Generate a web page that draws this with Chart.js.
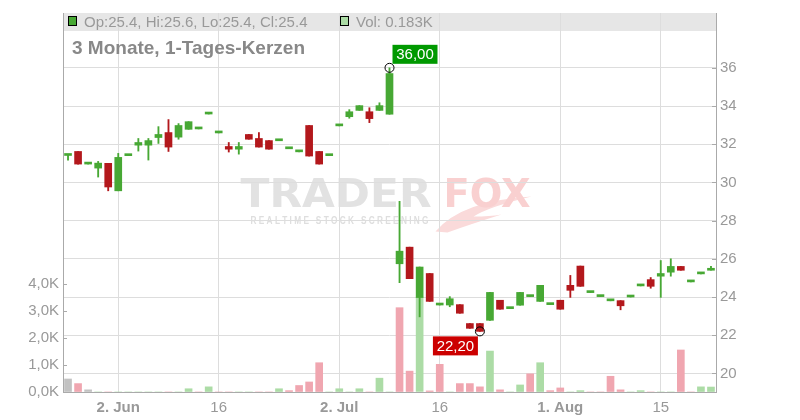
<!DOCTYPE html>
<html><head><meta charset="utf-8">
<script src="https://cdn.jsdelivr.net/npm/chart.js@4.4.1/dist/chart.umd.min.js"></script>
<style>html,body{margin:0;padding:0;background:#fff;}#wrap{width:800px;height:420px;}</style>
</head><body><div id="wrap"><canvas id="c" width="800" height="420"></canvas></div>
<script>
const days = [
'26.05.','27.05.','28.05.','29.05.','30.05.',
'02.06.','03.06.','04.06.','05.06.','06.06.',
'09.06.','10.06.','11.06.','12.06.','13.06.',
'16.06.','17.06.','18.06.','19.06.','20.06.',
'23.06.','24.06.','25.06.','26.06.','27.06.',
'30.06.','01.07.','02.07.','03.07.','04.07.',
'07.07.','08.07.','09.07.','10.07.','11.07.',
'14.07.','15.07.','16.07.','17.07.','18.07.',
'21.07.','22.07.','23.07.','24.07.','25.07.',
'28.07.','29.07.','30.07.','31.07.','01.08.',
'04.08.','05.08.','06.08.','07.08.','08.08.',
'11.08.','12.08.','13.08.','14.08.','15.08.',
'18.08.','19.08.','20.08.','21.08.','22.08.'];
const xTickDays   = ['02.06.','16.06.','02.07.','16.07.','01.08.','15.08.'];
const xTickLabels = ['2. Jun','16','2. Jul','16','1. Aug','15'];
const xTickBold   = [true,false,true,false,true,false];

const open = [31.41,31.62,30.96,30.75,31.00,29.56,31.40,31.95,31.95,32.35,
32.61,32.37,32.78,32.80,33.58,32.59,31.88,31.74,32.51,32.30,
32.19,32.18,31.76,31.60,32.98,31.62,31.40,32.96,33.44,33.77,
33.70,33.77,33.57,25.74,26.61,23.97,25.23,23.58,23.58,23.60,
22.61,22.61,22.78,23.83,23.39,23.57,24.02,23.77,23.60,23.83,
24.61,25.62,24.23,24.02,23.80,23.81,24.00,24.58,24.91,25.09,
25.30,25.60,24.79,25.21,25.40];
const high = [31.43,31.62,30.96,31.10,31.00,31.52,31.40,32.30,32.30,32.92,
33.29,33.08,33.18,32.80,33.58,32.59,32.09,32.09,32.51,32.61,
32.19,32.18,31.76,31.60,32.98,31.62,31.40,32.96,33.81,34.02,
33.91,34.17,36.00,29.01,26.61,25.57,25.23,23.58,24.02,23.60,
22.61,22.61,24.24,23.83,23.39,24.24,24.02,24.61,23.60,23.83,
25.13,25.62,24.23,24.02,23.80,23.81,24.00,24.58,25.02,25.91,
26.00,25.60,24.79,25.21,25.60];
const low = [31.17,30.96,30.96,30.28,29.56,29.56,31.40,31.64,31.17,32.04,
31.62,32.26,32.78,32.80,33.58,32.59,31.59,31.48,32.26,31.85,
31.74,32.18,31.76,31.60,31.38,30.96,31.40,32.96,33.36,33.77,
33.13,33.77,33.57,24.75,24.96,22.96,23.77,23.58,23.49,23.15,
22.36,22.20,22.78,23.36,23.39,23.57,24.02,23.77,23.60,23.36,
23.98,24.56,24.23,24.02,23.80,23.33,24.00,24.58,24.46,23.98,
25.09,25.40,24.79,25.21,25.40];
const close = [31.41,30.96,30.96,31.01,29.76,31.31,31.40,32.09,32.19,32.51,
31.85,32.98,33.18,32.80,33.58,32.59,31.74,31.88,32.26,31.85,
31.74,32.18,31.76,31.60,31.38,30.96,31.40,32.96,33.70,34.02,
33.34,34.02,35.70,26.40,24.96,25.57,23.77,23.58,23.91,23.15,
22.36,22.20,24.24,23.36,23.39,24.24,24.02,24.61,23.60,23.36,
24.35,24.56,24.23,24.02,23.80,23.54,24.00,24.58,24.56,25.23,
25.60,25.40,24.79,25.21,25.40];
const volume = [480,310,80,0,0,0,0,0,0,0,
0,0,120,0,190,0,0,0,0,0,
0,120,50,240,370,1080,0,120,0,120,
0,510,0,3110,770,3500,40,1020,0,310,
310,190,1510,80,0,260,670,1080,50,150,
0,50,0,0,580,80,0,50,0,0,
0,1550,0,190,183];
const priceTicks  = [20,22,24,26,28,30,32,34,36];
const volumeTicks = [0,1000,2000,3000,4000];
const chartTitle = '3 Monate, 1-Tages-Kerzen';

const FONT = "'Liberation Sans', Arial, sans-serif";
const GREEN = '#47a834', RED = '#b3181c';
const VOL_G = '#acdca6', VOL_R = '#f0a6b0', VOL_N = '#c2c2c2';
const candleColors = close.map((c,i) => c >= open[i] ? GREEN : RED);
const volColors = close.map((c,i) => (i === 0 || c === close[i-1]) ? VOL_N : (c > close[i-1] ? VOL_G : VOL_R));
const xTickIdx = xTickDays.map(d => days.indexOf(d));

const decor = {
  id: 'decor',
  beforeDraw(chart) {
    const ctx = chart.ctx, a = chart.chartArea;
    ctx.save();
    ctx.fillStyle = '#e6e6e6';
    ctx.fillRect(a.left, a.top, a.right - a.left, 18);
    const cx = (a.left + a.right) / 2, cy = (a.top + a.bottom) / 2;
    ctx.textBaseline = 'alphabetic';
    const drawFit = (txt, x, y, w, col) => {
      const m = ctx.measureText(txt).width;
      ctx.save(); ctx.translate(x, y); ctx.scale(w / m, 1);
      ctx.fillStyle = col; ctx.fillText(txt, 0, 0); ctx.restore();
    };
    ctx.font = "bold 39px 'DejaVu Sans', " + FONT;
    drawFit('TRADER', cx - 149, cy + 4, 191, '#e2e2e2');
    // fox tail swoosh
    ctx.beginPath();
    ctx.moveTo(cx + 46, cy + 29);
    ctx.quadraticCurveTo(cx + 72, cy - 2, cx + 142, cy - 6);
    ctx.quadraticCurveTo(cx + 100, cy + 4, cx + 84, cy + 14);
    ctx.quadraticCurveTo(cx + 100, cy + 14, cx + 112, cy + 12);
    ctx.quadraticCurveTo(cx + 80, cy + 22, cx + 58, cy + 30);
    ctx.closePath();
    ctx.fillStyle = '#fadada'; ctx.fill();
    drawFit('FOX', cx + 54, cy + 4, 87, '#f9d0d0');
    ctx.font = "bold 10px " + FONT;
    drawFit('R E A L T I M E   S T O C K   S C R E E N I N G', cx - 139, cy + 21, 178, '#dedede');
    ctx.restore();
  },
  afterDraw(chart) {
    const ctx = chart.ctx, a = chart.chartArea;
    const xs = chart.scales.x, ys = chart.scales.y, vs = chart.scales.yVol;
    ctx.save();
    ctx.strokeStyle = '#aaaaaa'; ctx.lineWidth = 1;
    priceTicks.forEach(v => { const y = Math.round(ys.getPixelForValue(v)) + 0.5;
      ctx.beginPath(); ctx.moveTo(a.right - 4, y); ctx.lineTo(a.right, y); ctx.stroke(); });
    volumeTicks.forEach(v => { const y = Math.round(vs.getPixelForValue(v)) + 0.5;
      ctx.beginPath(); ctx.moveTo(a.left, y); ctx.lineTo(a.left + 4, y); ctx.stroke(); });
    const n = close.length - 1;
    ctx.textBaseline = 'alphabetic';
    ctx.font = '15px ' + FONT;
    ctx.fillStyle = GREEN; ctx.fillRect(68.5, 16.5, 8, 9);
    ctx.strokeStyle = '#000'; ctx.strokeRect(68.5, 16.5, 8, 9);
    ctx.fillStyle = '#999999';
    ctx.fillText('Op:' + open[n].toFixed(1) + ', Hi:' + high[n].toFixed(1) + ', Lo:' + low[n].toFixed(1) + ', Cl:' + close[n].toFixed(1), 84, 27);
    ctx.fillStyle = VOL_G; ctx.fillRect(340.5, 16.5, 8, 9);
    ctx.strokeStyle = '#000'; ctx.strokeRect(340.5, 16.5, 8, 9);
    ctx.fillStyle = '#999999';
    ctx.fillText('Vol: ' + (volume[n] / 1000).toFixed(3) + 'K', 356, 27);
    ctx.font = 'bold 19px ' + FONT; ctx.fillStyle = '#888888';
    ctx.fillText(chartTitle, 72, 54);
    let iMax = 0, iMin = 0;
    high.forEach((h,i) => { if (h > high[iMax]) iMax = i; });
    low.forEach((l,i) => { if (l < low[iMin]) iMin = i; });
    const fmt = v => v.toFixed(2).replace('.', ',');
    ctx.font = '15px ' + FONT;
    const px = xs.getPixelForValue(iMax), py = ys.getPixelForValue(high[iMax]);
    ctx.fillStyle = '#009900'; ctx.fillRect(px + 3, py - 23, 45, 19);
    ctx.fillStyle = '#fff'; ctx.textAlign = 'center'; ctx.textBaseline = 'middle';
    ctx.fillText(fmt(high[iMax]), px + 25.5, py - 13);
    const qx = xs.getPixelForValue(iMin), qy = ys.getPixelForValue(low[iMin]);
    ctx.fillStyle = '#cc0000'; ctx.fillRect(qx - 47, qy + 5, 45, 19);
    ctx.fillStyle = '#fff'; ctx.fillText(fmt(low[iMin]), qx - 24.5, qy + 15);
    ctx.strokeStyle = '#000'; ctx.lineWidth = 1;
    [[px, py], [qx, qy]].forEach(([x, y]) => { ctx.beginPath(); ctx.arc(x, y, 4.5, 0, Math.PI * 2); ctx.stroke(); });
    ctx.restore();
  }
};

Chart.defaults.font.family = FONT;
new Chart(document.getElementById('c'), {
  type: 'bar',
  data: {
    labels: days,
    datasets: [
      { label: 'body', data: open.map((o,i) => [Math.min(o, close[i]), Math.max(o, close[i])]),
        backgroundColor: candleColors, barThickness: 7, minBarLength: 2, yAxisID: 'y', order: 0, grouped: false },
      { label: 'wick', data: low.map((l,i) => [l, high[i]]),
        backgroundColor: candleColors, barThickness: 1.2, yAxisID: 'y', order: 1, grouped: false },
      { label: 'vol', data: volume, backgroundColor: volColors, barThickness: 7, yAxisID: 'yVol', order: 2, grouped: false }
    ]
  },
  options: {
    responsive: false, animation: false,
    layout: { padding: { top: 11, left: 0, right: 0, bottom: 0 } },
    plugins: { legend: { display: false }, tooltip: { enabled: false } },
    scales: {
      x: {
        type: 'category', offset: true,
        grid: { offset: false, drawTicks: false, color: c => xTickIdx.includes(c.index) ? '#dddddd' : 'rgba(0,0,0,0)' },
        border: { color: '#aaaaaa' },
        ticks: { autoSkip: false, maxRotation: 0, padding: 7, color: '#999999',
          font: c => ({ family: FONT, size: 15, weight: (xTickIdx.indexOf(c.index) >= 0 && xTickBold[xTickIdx.indexOf(c.index)]) ? 'bold' : 'normal' }),
          callback: (v, i) => { const k = xTickIdx.indexOf(i); return k >= 0 ? xTickLabels[k] : ''; } },
        afterFit: s => { s.height = 28; }
      },
      y: {
        position: 'right', min: 19.026, max: 38.87,
        afterBuildTicks: s => { s.ticks = priceTicks.map(v => ({ value: v })); },
        grid: { color: '#dddddd', drawTicks: false },
        border: { color: '#aaaaaa' },
        ticks: { padding: 4, color: '#999999', font: { family: FONT, size: 15 }, callback: v => String(v) },
        afterFit: s => { s.width = 84; }
      },
      yVol: {
        position: 'left', min: 0, max: 13980,
        afterBuildTicks: s => { s.ticks = volumeTicks.map(v => ({ value: v })); },
        grid: { drawOnChartArea: false, drawTicks: false },
        border: { color: '#aaaaaa' },
        ticks: { padding: 4, color: '#999999', font: { family: FONT, size: 15 },
          callback: v => (v / 1000).toFixed(1).replace('.', ',') + 'K' },
        afterFit: s => { s.width = 63; }
      }
    }
  },
  plugins: [decor]
});
</script></body></html>
